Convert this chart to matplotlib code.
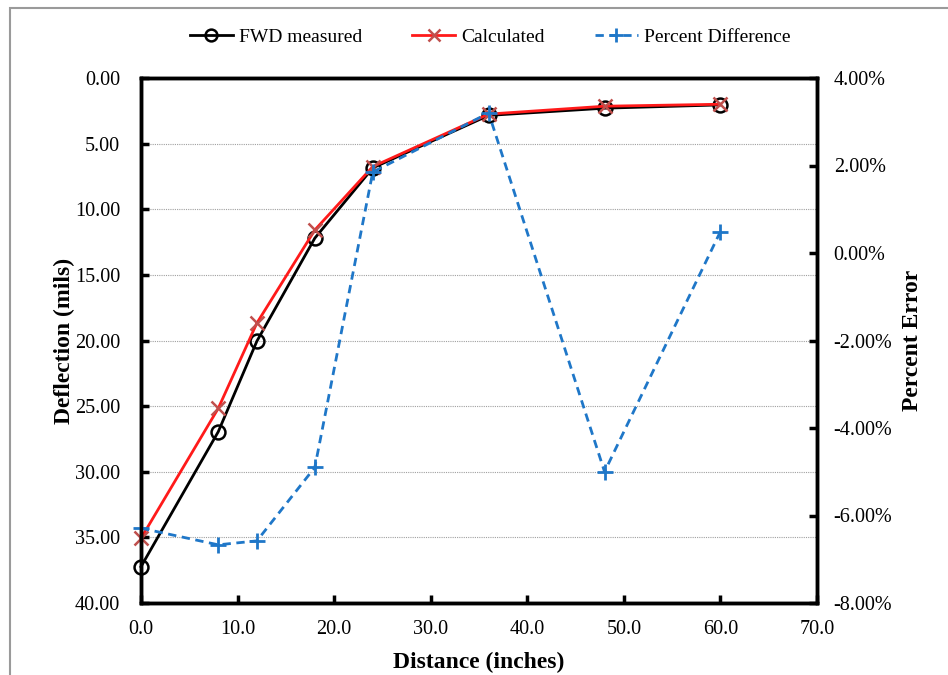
import matplotlib
matplotlib.use("Agg")
from matplotlib import pyplot as plt
from matplotlib.ticker import FuncFormatter
from matplotlib.patches import Rectangle

# distance of sensors (inches)
distance = [0, 8, 12, 18, 24, 36, 48, 60]
fwd_measured = [37.23, 26.95, 20.05, 12.2, 6.85, 2.85, 2.3, 2.05]
calculated = [35.07, 25.17, 18.67, 11.58, 6.75, 2.75, 2.15, 2.0]
percent_diff = [-6.29, -6.67, -6.58, -4.9, 1.85, 3.2, -5.0, 0.49]

plt.rcParams["font.family"] = ["Liberation Serif", "DejaVu Serif"]

fig = plt.figure(figsize=(9.48, 6.75), dpi=100)
ax = fig.add_axes([141 / 948, 1 - 603 / 675, (817 - 141) / 948, (603 - 78) / 675])

# gray frame around the whole picture (only left and top visible)
fig.patches.append(Rectangle((10 / 948, -0.05), 1.1, 1 - 8 / 675 + 0.05,
                             transform=fig.transFigure, fill=False,
                             edgecolor="#9a9a9a", linewidth=1.5))

l1, = ax.plot(distance, fwd_measured, color="black", linewidth=2,
              marker="o", markersize=10, markerfacecolor="none",
              markeredgewidth=1.8, label="FWD measured", clip_on=False)
l2, = ax.plot(distance, calculated, color="#ff1a1a", linewidth=2,
              marker="x", markersize=10, markeredgecolor="#c0504d",
              markeredgewidth=1.8, label="Calculated", clip_on=False)

ax.set_xlim(0, 70)
ax.set_ylim(40, 0)
ax.set_xticks(range(0, 71, 10))
ax.set_yticks(range(0, 41, 5))
ax.xaxis.set_major_formatter(FuncFormatter(lambda v, p: f"{v:.1f}"))
ax.yaxis.set_major_formatter(FuncFormatter(lambda v, p: f"{v:.2f}"))
ax.grid(axis="y", color="#a0a0a0", linestyle=(0, (1, 1)), linewidth=0.8)
ax.set_axisbelow(True)

ax2 = ax.twinx()
l3, = ax2.plot(distance, percent_diff, color="#1f77c8", linewidth=2,
               linestyle=(0, (3, 2)), marker="+", markersize=12,
               markeredgewidth=2, label="Percent Difference", clip_on=False)
ax2.set_ylim(-8, 4)
ax2.set_yticks(range(-8, 5, 2))
ax2.yaxis.set_major_formatter(FuncFormatter(lambda v, p: f"{v:.2f}%"))

for a in (ax, ax2):
    for s in a.spines.values():
        s.set_linewidth(2.5)
    a.tick_params(direction="in", length=6, width=2.5, labelsize=14.5)
ax.tick_params(axis="x", pad=12)
ax.tick_params(axis="y", pad=15)
ax2.tick_params(axis="y", pad=12)

ax.set_xlabel("Distance (inches)", fontsize=17, fontweight="bold")
ax.set_ylabel("Deflection (mils)", fontsize=17, fontweight="bold")
ax2.set_ylabel("Percent Error", fontsize=17, fontweight="bold")
ax.xaxis.set_label_coords(0.5, -0.093)
ax.yaxis.set_label_coords(-0.097, 0.5)
ax2.yaxis.set_label_coords(1.126, 0.5)

fig.legend(handles=[l1, l2, l3], loc="center", ncol=3, frameon=False,
           bbox_to_anchor=(490 / 948, 1 - 37 / 675), fontsize=14,
           handlelength=2.2, columnspacing=2.6, handletextpad=0.3,
           markerscale=0.85)

fig.savefig("out.png", dpi=100)
